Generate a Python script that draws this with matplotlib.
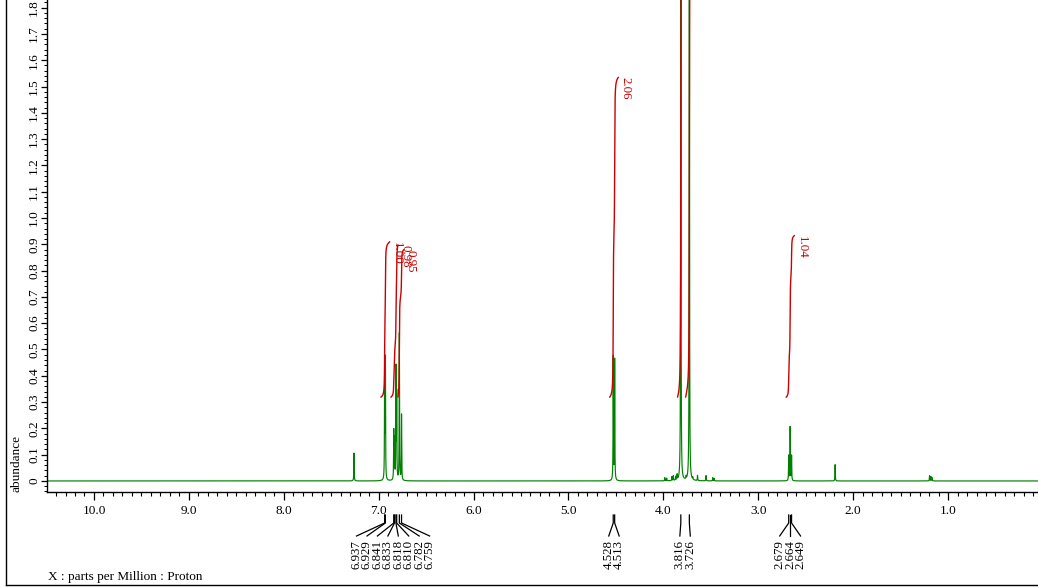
import numpy as np
import matplotlib
matplotlib.use("Agg")
import matplotlib.pyplot as plt
from matplotlib.lines import Line2D
from matplotlib.transforms import blended_transform_factory
from matplotlib.ticker import MultipleLocator, FuncFormatter

plt.rcParams["font.family"] = ["Liberation Serif", "DejaVu Serif"]

# ---------------- data ----------------
peak_ppm = [7.260,
            6.937, 6.929, 6.841, 6.833, 6.818, 6.810, 6.782, 6.759,
            4.528, 4.513,
            3.985, 3.965, 3.910, 3.895, 3.870, 3.855,
            3.816, 3.760, 3.726, 3.690, 3.640, 3.550, 3.480, 3.465,
            2.679, 2.664, 2.649,
            2.190,
            1.195, 1.180, 1.168]
peak_height = [0.106,
               0.455, 0.450, 0.185, 0.150, 0.420, 0.320, 0.560, 0.250,
               0.470, 0.460,
               0.012, 0.010, 0.015, 0.018, 0.014, 0.020,
               2.600, 0.010, 2.500, 0.008, 0.020, 0.020, 0.012, 0.010,
               0.095, 0.205, 0.095,
               0.062,
               0.020, 0.016, 0.012]
peak_hwhm = 0.0020

integral_start = [6.975, 6.870, 6.797, 4.565, 3.850, 3.765, 2.705]
integral_end = [6.885, 6.797, 6.735, 4.475, 3.785, 3.690, 2.620]
integral_value = [1.00, 0.98, 0.95, 2.06, 3.05, 3.02, 1.04]
integral_base = 0.319
integral_scale = 0.59

label_groups = [[6.937, 6.929, 6.841, 6.833, 6.818, 6.810, 6.782, 6.759],
                [4.528, 4.513],
                [3.816, 3.726],
                [2.679, 2.664, 2.649]]

x_range = (10.495, 0.052)
y_range = (-0.042, 1.829)

# ---------------- figure ----------------
W, H = 1038, 587
fig = plt.figure(figsize=(W / 100, H / 100), dpi=100)
ax = fig.add_axes([47 / W, 95 / H, (W - 47) / W, 492 / H])

x = np.linspace(x_range[0], x_range[1], 40000)
p = np.array(peak_ppm)[:, None]
h = np.array(peak_height)[:, None]
y = (h / (1 + ((x[None, :] - p) / peak_hwhm) ** 2)).sum(axis=0)

ax.plot(x, y, color="#008000", lw=0.85)

# integrals
red = "#cc0000"
for s, e, v in zip(integral_start, integral_end, integral_value):
    m = (x <= s) & (x >= e)
    xs = x[m]
    c = np.cumsum(y[m])
    c = c / c[-1]
    yi = integral_base + c * v * integral_scale
    ax.plot(xs, yi, color=red, lw=1.0)
    top = integral_base + v * integral_scale
    if top < y_range[1]:
        ax.text(e - 0.075, top, f"{v:.2f}", rotation=-90, ha="center", va="top",
                color=red, fontsize=9.3)

ax.set_xlim(*x_range)
ax.set_ylim(*y_range)
ax.set_autoscale_on(False)

for sp in ["top", "right"]:
    ax.spines[sp].set_visible(False)
ax.spines["left"].set_linewidth(1.0)
ax.spines["bottom"].set_linewidth(1.0)

ax.xaxis.set_major_locator(MultipleLocator(1.0))
ax.xaxis.set_minor_locator(MultipleLocator(0.1))
ax.xaxis.set_major_formatter(FuncFormatter(lambda v, _: f"{v:.1f}"))
ax.yaxis.set_major_locator(MultipleLocator(0.1))
ax.yaxis.set_minor_locator(MultipleLocator(0.02))
ax.yaxis.set_major_formatter(FuncFormatter(lambda v, _: "0" if abs(v) < 1e-9 else f"{v:.1f}"))

ax.tick_params(axis="x", which="major", direction="out", length=6, width=0.9,
               labelsize=9.5, pad=3)
ax.tick_params(axis="x", which="minor", direction="out", length=3, width=0.8)
ax.tick_params(axis="y", which="major", direction="out", length=4, width=0.9,
               labelsize=9.5, pad=1, labelrotation=90)
ax.tick_params(axis="y", which="minor", direction="out", length=2, width=0.7)
for lab in ax.get_yticklabels():
    lab.set_va("center")

# peak labels below axis
trans = blended_transform_factory(ax.transData, fig.transFigure)
spacing = 0.11
for grp in label_groups:
    n = len(grp)
    cen = (max(grp) + min(grp)) / 2
    for i, pk in enumerate(grp):
        lx = cen + ((n - 1) / 2 - i) * spacing
        ax.plot([pk, pk, lx], [1 - 515 / H, 1 - 523 / H, 1 - 536 / H],
                transform=trans, color="black", lw=0.9, clip_on=False)
        ax.text(lx, 1 - 540 / H, f"{pk:.3f}", transform=trans, rotation=90,
                ha="center", va="top", fontsize=9.3, clip_on=False)

# texts
fig.text(16 / W, 1 - 492 / H, "abundance", rotation=90, ha="center", va="bottom",
         fontsize=9.5)
fig.text(48 / W, 1 - 577 / H, "X : parts per Million : Proton", ha="left",
         va="center", fontsize=9.5)

# figure frame (left and bottom visible)
fig.add_artist(Line2D([6 / W, 6 / W], [2 / H, 1.0], transform=fig.transFigure,
                      color="black", lw=1.0))
fig.add_artist(Line2D([6 / W, 1.0], [2 / H, 2 / H], transform=fig.transFigure,
                      color="black", lw=1.0))

fig.savefig("out.png", dpi=100)
